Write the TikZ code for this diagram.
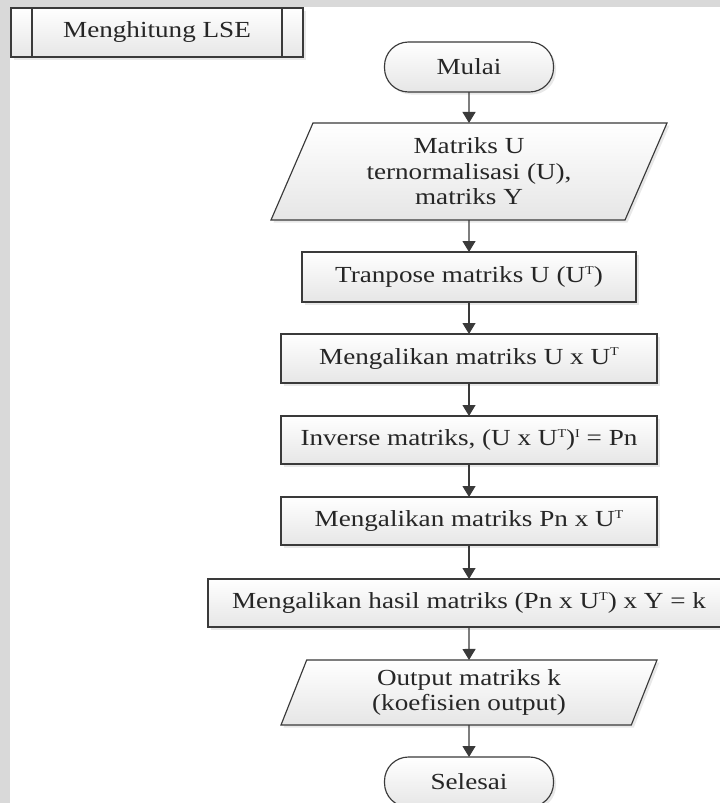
\documentclass[tikz,border=0pt]{standalone}
\usepackage{fontspec}
\setmainfont[FakeStretch=1.18]{Liberation Serif}
\usetikzlibrary{shapes.geometric,arrows.meta,shadows}

\definecolor{edge}{HTML}{3A3A3A}
\definecolor{txt}{HTML}{262626}
\definecolor{boxbot}{HTML}{E6E6E6}
\definecolor{band}{HTML}{D9D9D9}

% small raised index, as in U^T
\newcommand\smallsup[1]{\raisebox{0.36em}{\fontsize{12}{12}\selectfont #1}}

\begin{document}
\begin{tikzpicture}[x=1pt,y=-1pt,
  every node/.style={font=\fontsize{23}{25.5}\selectfont, text=txt},
  shape base/.style={draw=edge, line width=1.15pt, top color=white, bottom color=boxbot,
    drop shadow={opacity=0.18, shadow xshift=2.5pt, shadow yshift=-2.5pt},
    align=center, inner sep=0pt, outer sep=0pt},
  procbox/.style={shape base, rectangle},
  termbox/.style={shape base, rectangle, rounded corners=24pt, minimum width=169pt, minimum height=50pt},
  iobox/.style={shape base, trapezium, trapezium stretches body},
  flow/.style={draw=edge, line width=1.15pt, -{Triangle[length=11pt,width=13pt]}}
]
\useasboundingbox (0,0) rectangle (720,803);
\clip (0,0) rectangle (720,803);

% page background with grey margins
\fill[white] (0,0) rectangle (720,803);
\fill[band] (0,0) rectangle (10,803);
\fill[band] (0,0) rectangle (720,7);

% subprocess header
\node[procbox, minimum width=292pt, minimum height=49pt] (title) at (157,32.5) {Menghitung LSE};
\draw[edge, line width=1.15pt] ([xshift=21pt]title.north west) -- ([xshift=21pt]title.south west);
\draw[edge, line width=1.15pt] ([xshift=-21pt]title.north east) -- ([xshift=-21pt]title.south east);

% flow chart
\node[termbox] (start) at (469,67) {Mulai};
\node[iobox, trapezium left angle=58, trapezium right angle=122,
      minimum width=396pt, minimum height=97pt] (input) at (469,171.5)
      {Matriks U\\ternormalisasi (U),\\matriks Y};
\node[procbox, minimum width=334pt, minimum height=50pt] (trans) at (469,277)
      {Tranpose matriks U (U\smallsup{T})};
\node[procbox, minimum width=376pt, minimum height=49pt] (mul1) at (469,358.5)
      {Mengalikan matriks U x U\smallsup{T}};
\node[procbox, minimum width=376pt, minimum height=48pt] (inv) at (469,440)
      {Inverse matriks, (U x U\smallsup{T})\smallsup{I} = Pn};
\node[procbox, minimum width=376pt, minimum height=48pt] (mul2) at (469,521)
      {Mengalikan matriks Pn x U\smallsup{T}};
\node[procbox, minimum width=522pt, minimum height=48pt] (res) at (469,603)
      {Mengalikan hasil matriks (Pn x U\smallsup{T}) x Y = k};
\node[iobox, trapezium left angle=61, trapezium right angle=119,
      minimum width=376pt, minimum height=65pt] (output) at (469,692.5)
      {Output matriks k\\(koefisien output)};
\node[termbox] (stop) at (469,782) {Selesai};

\draw[flow] (start) -- (input);
\draw[flow] (input) -- (trans);
\draw[flow] (trans) -- (mul1);
\draw[flow] (mul1) -- (inv);
\draw[flow] (inv) -- (mul2);
\draw[flow] (mul2) -- (res);
\draw[flow] (res) -- (output);
\draw[flow] (output) -- (stop);
\end{tikzpicture}
\end{document}
